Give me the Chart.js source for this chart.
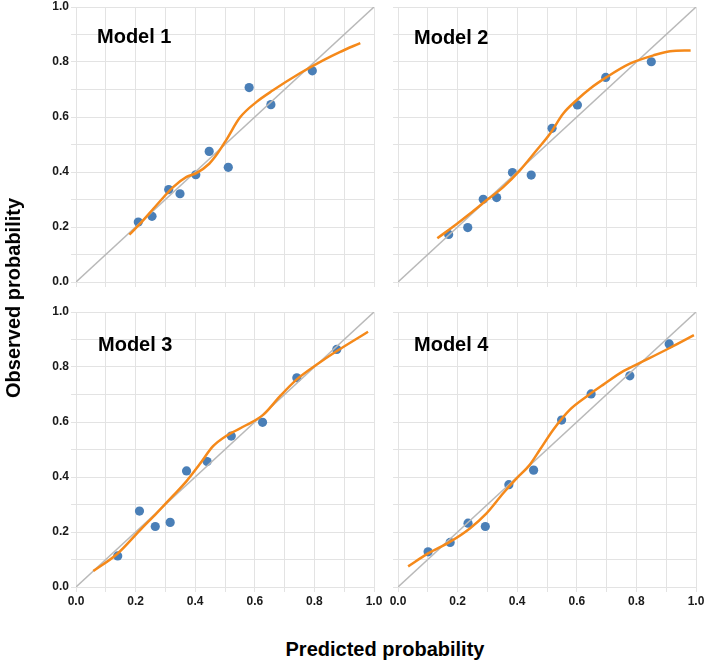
<!DOCTYPE html>
<html>
<head>
<meta charset="utf-8">
<script src="https://cdn.jsdelivr.net/npm/chart.js@4.4.1/dist/chart.umd.min.js"></script>
<style>
  body { margin: 0; background: #fff; }
  #wrap { position: relative; width: 709px; height: 661px; overflow: hidden; font-family: "Liberation Sans", Arial, sans-serif; }
  .panel { position: absolute; }
  .model { position: absolute; font-weight: bold; font-size: 20px; line-height: 20px; color: #000; white-space: nowrap; }
  .title { position: absolute; font-weight: bold; font-size: 20px; line-height: 20px; color: #000; white-space: nowrap; }
</style>
</head>
<body>
<div id="wrap">
  <div class="panel" style="left:0px;top:-7px"><canvas id="c1" width="388" height="307"></canvas></div>
  <div class="panel" style="left:380px;top:-7px"><canvas id="c2" width="330" height="307"></canvas></div>
  <div class="panel" style="left:0px;top:298px"><canvas id="c3" width="388" height="329"></canvas></div>
  <div class="panel" style="left:380px;top:298px"><canvas id="c4" width="330" height="329"></canvas></div>

  <div class="model" style="left:97px;top:26px">Model 1</div>
  <div class="model" style="left:414px;top:27px">Model 2</div>
  <div class="model" style="left:98px;top:334px">Model 3</div>
  <div class="model" style="left:414px;top:334px">Model 4</div>

  <div class="title" style="left:385px;top:639px;transform:translateX(-50%)">Predicted probability</div>
  <div class="title" style="left:13px;top:298px;transform:translate(-50%,-50%) rotate(-90deg)">Observed probability</div>
</div>

<script>
// observed points (predicted x, observed y) and smoothed calibration curve per model
const m1PredX = [0.209, 0.255, 0.311, 0.349, 0.402, 0.447, 0.511, 0.581, 0.654, 0.793];
const m1ObsY  = [0.218, 0.239, 0.336, 0.321, 0.390, 0.475, 0.417, 0.707, 0.645, 0.768];
const m1CurveX = [0.179, 0.215, 0.27, 0.326, 0.371, 0.404, 0.447, 0.474, 0.505, 0.55, 0.606, 0.661, 0.75, 0.829, 0.885, 0.954];
const m1CurveY = [0.172, 0.212, 0.279, 0.345, 0.382, 0.396, 0.430, 0.466, 0.518, 0.598, 0.655, 0.697, 0.758, 0.806, 0.836, 0.869];

const m2PredX = [0.170, 0.234, 0.286, 0.331, 0.384, 0.447, 0.517, 0.602, 0.697, 0.850];
const m2ObsY  = [0.173, 0.198, 0.301, 0.307, 0.398, 0.389, 0.559, 0.644, 0.744, 0.801];
const m2CurveX = [0.132, 0.196, 0.241, 0.297, 0.353, 0.409, 0.465, 0.51, 0.554, 0.599, 0.644, 0.700, 0.778, 0.857, 0.913, 0.982];
const m2CurveY = [0.159, 0.210, 0.248, 0.297, 0.345, 0.406, 0.479, 0.539, 0.612, 0.661, 0.703, 0.745, 0.794, 0.824, 0.839, 0.842];

const m3PredX = [0.140, 0.213, 0.266, 0.316, 0.371, 0.440, 0.521, 0.626, 0.741, 0.875];
const m3ObsY  = [0.113, 0.276, 0.220, 0.235, 0.422, 0.456, 0.549, 0.599, 0.761, 0.864];
const m3CurveX = [0.058, 0.14, 0.215, 0.270, 0.326, 0.371, 0.416, 0.460, 0.505, 0.572, 0.628, 0.684, 0.740, 0.807, 0.874, 0.980];
const m3CurveY = [0.058, 0.122, 0.207, 0.268, 0.332, 0.385, 0.448, 0.512, 0.550, 0.589, 0.626, 0.693, 0.754, 0.808, 0.857, 0.928];

const m4PredX = [0.101, 0.175, 0.235, 0.293, 0.372, 0.455, 0.549, 0.648, 0.778, 0.910];
const m4ObsY  = [0.128, 0.162, 0.232, 0.220, 0.372, 0.425, 0.607, 0.702, 0.768, 0.884];
const m4CurveX = [0.034, 0.101, 0.174, 0.241, 0.297, 0.353, 0.398, 0.442, 0.476, 0.521, 0.577, 0.633, 0.689, 0.756, 0.823, 0.913, 0.993];
const m4CurveY = [0.075, 0.122, 0.164, 0.213, 0.268, 0.341, 0.395, 0.444, 0.499, 0.572, 0.645, 0.693, 0.736, 0.785, 0.821, 0.870, 0.916];

const diagX = [0, 1];
const diagY = [0, 1];

function toPts(xs, ys) {
  return xs.map((x, i) => ({ x: x, y: ys[i] }));
}

function tickLabel(v) {
  const k = Math.round(v * 10);
  return k % 2 === 0 ? (k / 10).toFixed(1) : "";
}

function drawPanel(id, xs, ys, cxs, cys, showX, showY) {
  const ctx = document.getElementById(id).getContext("2d");
  const tickFont = { family: "'Liberation Sans', Arial, sans-serif", size: 12, weight: "bold" };
  new Chart(ctx, {
    type: "scatter",
    data: {
      datasets: [
        {
          data: toPts(cxs, cys),
          showLine: true,
          borderColor: "#f5891a",
          borderWidth: 2.5,
          pointRadius: 0,
          cubicInterpolationMode: "monotone",
          order: 1,
        },
        {
          data: toPts(diagX, diagY),
          showLine: true,
          borderColor: "#b9b9b9",
          borderWidth: 1.5,
          pointRadius: 0,
          order: 2,
        },
        {
          data: toPts(xs, ys),
          backgroundColor: "#4a7fb7",
          borderColor: "#4a7fb7",
          pointRadius: 4.6,
          borderWidth: 0,
          order: 3,
        },
      ],
    },
    options: {
      responsive: false,
      animation: false,
      layout: { padding: { top: 14, right: 14, left: 0, bottom: 0 } },
      plugins: { legend: { display: false }, tooltip: { enabled: false } },
      scales: {
        x: {
          type: "linear",
          min: 0,
          max: 1,
          ticks: { stepSize: 0.1, display: showX, callback: tickLabel, font: tickFont, color: "#1a1a1a", padding: 2, maxRotation: 0, autoSkip: false },
          grid: { color: "#e3e3e3", tickLength: 5, lineWidth: 1 },
          border: { display: false },
          afterFit: (s) => { s.height = showX ? 40 : 18; },
        },
        y: {
          type: "linear",
          min: 0,
          max: 1,
          ticks: { stepSize: 0.1, display: showY, callback: tickLabel, font: tickFont, color: "#1a1a1a", padding: 2, autoSkip: false },
          grid: { color: "#e3e3e3", tickLength: 5, lineWidth: 1 },
          border: { display: false },
          afterFit: (s) => { s.width = showY ? 76 : 18; },
        },
      },
    },
  });
}

drawPanel("c1", m1PredX, m1ObsY, m1CurveX, m1CurveY, false, true);
drawPanel("c2", m2PredX, m2ObsY, m2CurveX, m2CurveY, false, false);
drawPanel("c3", m3PredX, m3ObsY, m3CurveX, m3CurveY, true, true);
drawPanel("c4", m4PredX, m4ObsY, m4CurveX, m4CurveY, true, false);
</script>
</body>
</html>
